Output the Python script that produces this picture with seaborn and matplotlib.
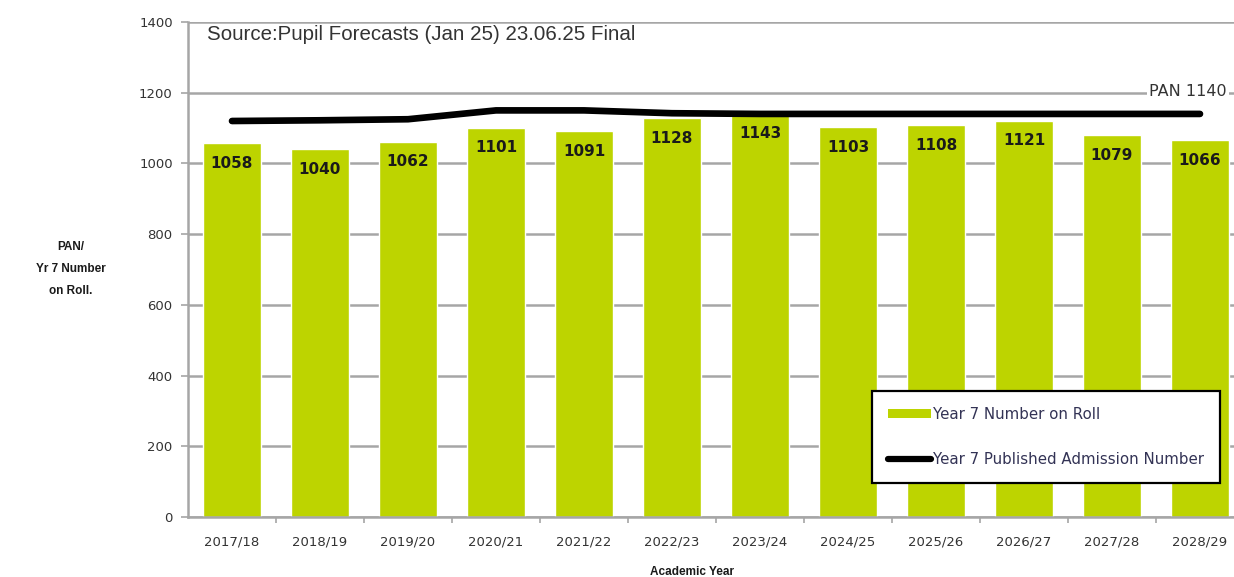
import numpy as np
import pandas as pd
import matplotlib
matplotlib.use("Agg")
import matplotlib.pyplot as plt
import seaborn as sns
from matplotlib.patches import Patch
from matplotlib.lines import Line2D

years = ["2017/18", "2018/19", "2019/20", "2020/21", "2021/22", "2022/23",
         "2023/24", "2024/25", "2025/26", "2026/27", "2027/28", "2028/29"]
on_roll = [1058, 1040, 1062, 1101, 1091, 1128, 1143, 1103, 1108, 1121, 1079, 1066]
pan = [1120, 1122, 1125, 1150, 1150, 1142, 1140, 1140, 1140, 1140, 1140, 1140]
y_ticks = [0, 200, 400, 600, 800, 1000, 1200, 1400]

sns.set_theme(style="white")
plt.rcParams["font.family"] = ["DejaVu Sans"]

BAR = "#bdd400"
GRID = "#a6a6a6"

fig = plt.figure(figsize=(12.34, 5.77), dpi=100)
ax = fig.add_axes([188 / 1234, 60 / 577, 1056 / 1234, 495 / 577])

df = pd.DataFrame({"year": years, "roll": on_roll})
sns.barplot(data=df, x="year", y="roll", color=BAR, saturation=1,
            width=0.67, ax=ax, zorder=2)
sns.lineplot(x=np.arange(len(years)), y=pan, color="black", linewidth=4.8,
             ax=ax, zorder=3)

ax.set_xlim(-0.5, len(years) - 0.5)
ax.set_ylim(0, 1400)
ax.set_yticks(y_ticks)
ax.set_yticklabels([str(t) for t in y_ticks])
ax.yaxis.grid(True, color=GRID, linewidth=1.8, zorder=0)
ax.set_axisbelow(True)

for side in ("top", "right"):
    ax.spines[side].set_visible(False)
for side in ("left", "bottom"):
    ax.spines[side].set_color(GRID)
    ax.spines[side].set_linewidth(1.8)

# category boundary ticks on x, value ticks on y
ax.set_xticks(np.arange(len(years)) + 0.5, minor=True)
ax.tick_params(axis="x", which="major", length=0, pad=13,
               labelsize=9.5, labelcolor="#333333")
ax.tick_params(axis="x", which="minor", bottom=True, length=4, width=1.2,
               color=GRID, direction="out")
ax.tick_params(axis="y", left=True, length=5, width=1.2, color=GRID,
               direction="out", pad=6, labelsize=9.5, labelcolor="#333333")

for i, v in enumerate(on_roll):
    ax.annotate(str(v), xy=(i, v), xytext=(0, -14.5), textcoords="offset points",
                ha="center", va="center", fontsize=11, fontweight="bold",
                color="#1a1a1a", zorder=4)

fig.text(207 / 1234, 1 - 34 / 577, "Source:Pupil Forecasts (Jan 25) 23.06.25 Final",
         ha="left", va="center", fontsize=14.8, color="#333333",
         family=["Liberation Sans", "DejaVu Sans"])

fig.text(1227 / 1234, 1 - 92 / 577, "PAN 1140", ha="right", va="center",
         fontsize=11.5, color="#333333", zorder=5,
         bbox=dict(boxstyle="square,pad=0.15", facecolor="white", edgecolor="none"))

ax.set_xlabel("")
ax.set_ylabel("")
fig.text(692 / 1234, 1 - 572 / 577, "Academic Year", ha="center", va="center",
         fontsize=8.5, fontweight="bold", color="#1a1a1a",
         family=["Liberation Sans", "DejaVu Sans"])
fig.text(71 / 1234, 1 - 269 / 577, "PAN/\nYr 7 Number\non Roll.", ha="center",
         va="center", fontsize=8.5, fontweight="bold", color="#1a1a1a",
         linespacing=2.1, family=["Liberation Sans", "DejaVu Sans"])

handles = [Patch(facecolor=BAR, edgecolor="none"),
           Line2D([0], [0], color="black", linewidth=4.5)]
labels = ["Year 7 Number on Roll", "Year 7 Published Admission Number"]
leg = fig.legend(handles, labels, loc="upper left",
                 bbox_to_anchor=(872 / 1234, 1 - 391 / 577),
                 frameon=True, fancybox=False, fontsize=10.8, labelspacing=2.0,
                 handlelength=2.9, handleheight=0.55, handletextpad=0.1,
                 borderpad=1.05, borderaxespad=0, labelcolor="#333355")
leg.get_frame().set_edgecolor("black")
leg.get_frame().set_linewidth(1.6)
leg.get_frame().set_alpha(1)

fig.savefig("out.png", dpi=100)
